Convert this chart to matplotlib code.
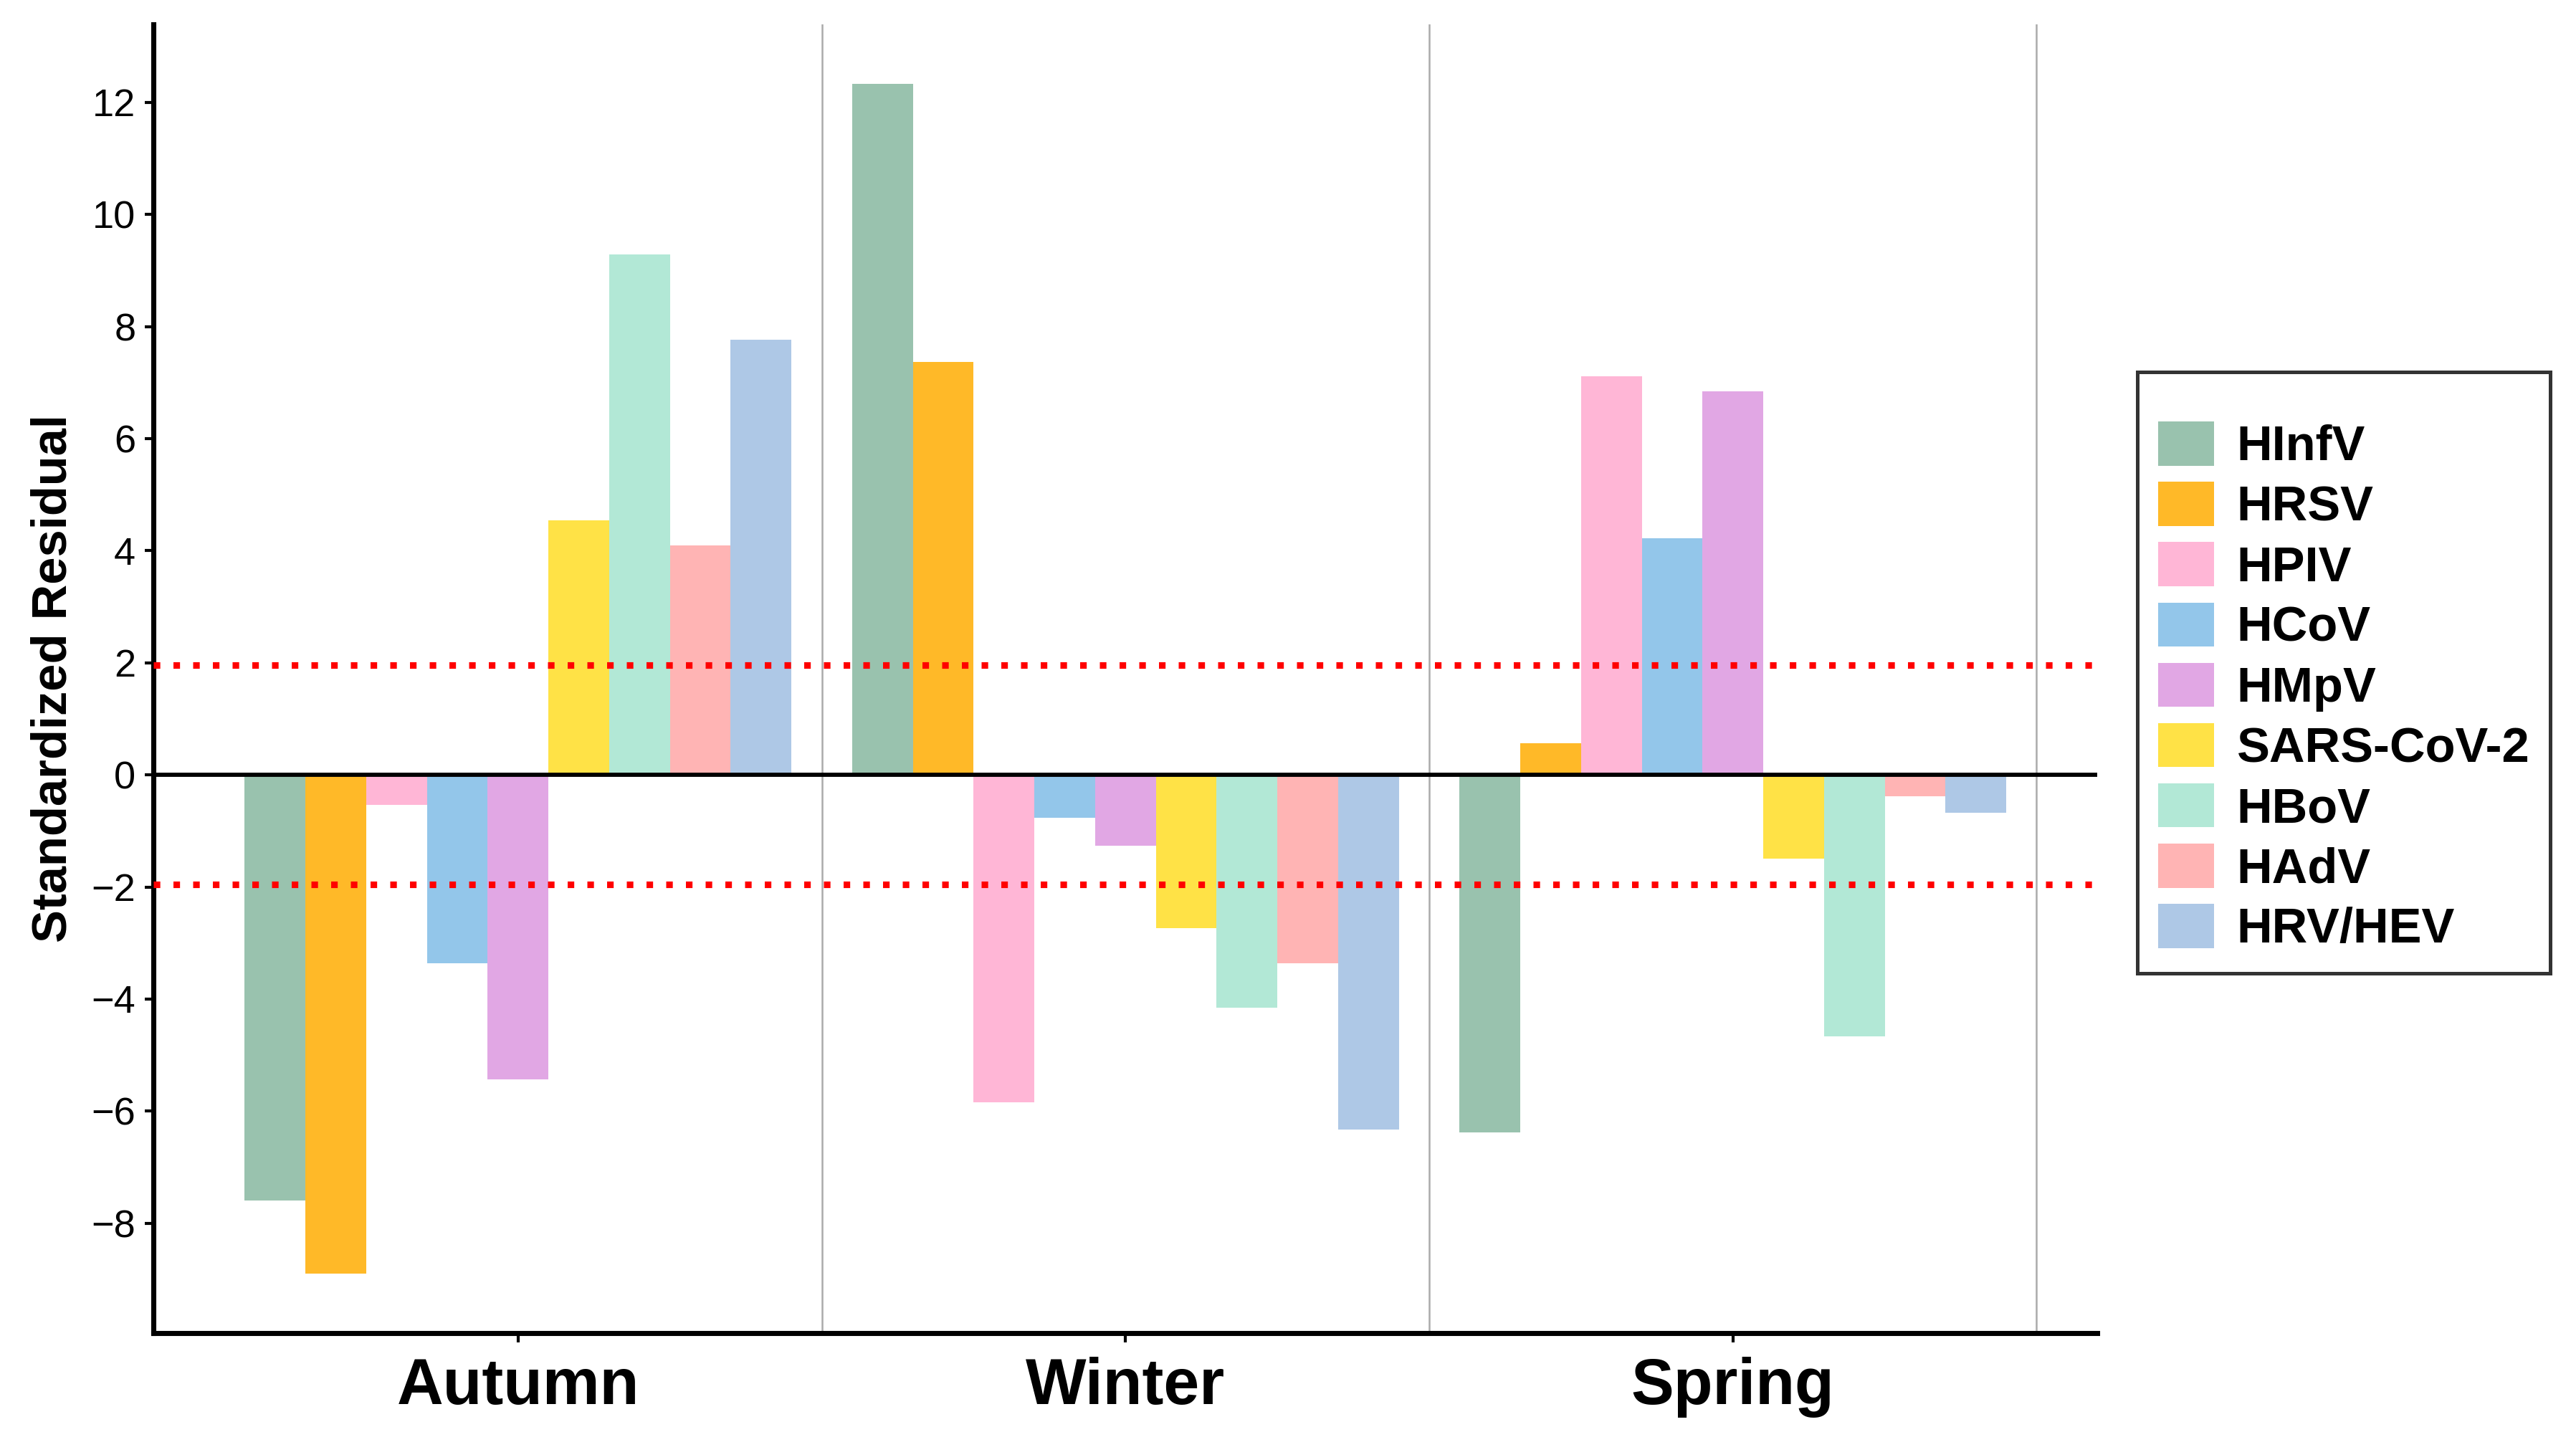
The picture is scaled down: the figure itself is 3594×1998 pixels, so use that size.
import numpy as np
import matplotlib
matplotlib.use("Agg")
import matplotlib.pyplot as plt
from matplotlib.patches import Patch

plt.rcParams['font.family'] = ['Liberation Sans', 'DejaVu Sans']

seasons = ["Autumn", "Winter", "Spring"]
viruses = ["HInfV", "HRSV", "HPIV", "HCoV", "HMpV", "SARS-CoV-2", "HBoV", "HAdV", "HRV/HEV"]
colors = ["#99C2AE", "#FFB928", "#FFB6D6", "#93C6EA", "#E1A7E4",
          "#FFE246", "#B2E8D6", "#FFB4B4", "#AEC8E6"]

# standardized residuals, one list per season (order = viruses)
autumn = [-7.6, -8.9, -0.53, -3.36, -5.43, 4.54, 9.29, 4.1, 7.76]
winter = [12.33, 7.37, -5.84, -0.77, -1.27, -2.74, -4.16, -3.36, -6.33]
spring = [-6.38, 0.56, 7.11, 4.22, 6.84, -1.5, -4.66, -0.38, -0.68]
resid = np.array([autumn, winter, spring])

fig = plt.figure(figsize=(11.983, 6.66), dpi=300)
ax = fig.add_axes([0.0596, 0.069, 0.7544, 0.914])

n = len(viruses)
w = 0.9 / n
xc = np.arange(1, len(seasons) + 1)
for j in range(n):
    xs = xc - 0.45 + w * (j + 0.5)
    ax.bar(xs, resid[:, j], width=w, color=colors[j], linewidth=0, zorder=2)

# season separators
for xv in [1.5, 2.5, 3.5]:
    ax.axvline(xv, color="#AAAAAA", lw=0.6, zorder=1)

ax.axhline(0, color="black", lw=1.4, zorder=3)
for yv in [1.96, -1.96]:
    ax.axhline(yv, color="red", lw=2.2, linestyle=(0, (1, 2)),
               dash_capstyle="butt", zorder=4)

lo, hi = resid.min(), resid.max()
pad = (hi - lo) * 0.05
ax.set_ylim(lo - pad, hi + pad)
ax.set_xlim(0.4, 3.6)
ax.set_yticks(np.arange(-8, 13, 2))
ax.set_xticks(xc)
ax.set_xticklabels(seasons, fontsize=21.5, fontweight="bold")
ax.tick_params(axis="y", labelsize=13, length=3, width=1, pad=3)
ax.tick_params(axis="x", length=3, width=1, pad=5)
ax.set_ylabel("Standardized Residual", fontsize=16.5, fontweight="bold", labelpad=5)

for s in ["top", "right"]:
    ax.spines[s].set_visible(False)
for s in ["left", "bottom"]:
    ax.spines[s].set_linewidth(1.7)

handles = [Patch(facecolor=c, edgecolor="none", label=v) for v, c in zip(viruses, colors)]
leg = fig.legend(handles=handles, loc="upper left", bbox_to_anchor=(0.8295, 0.74),
                 prop={"size": 16.5, "weight": "bold"}, frameon=True, fancybox=False,
                 title=" ", title_fontsize=6,
                 handlelength=1.13, handleheight=1.0, labelspacing=0.23,
                 handletextpad=0.47, borderpad=0.42, borderaxespad=0)
leg.get_frame().set_edgecolor("black")
leg.get_frame().set_linewidth(1.2)

fig.savefig("out.png", dpi=300, facecolor="white")
